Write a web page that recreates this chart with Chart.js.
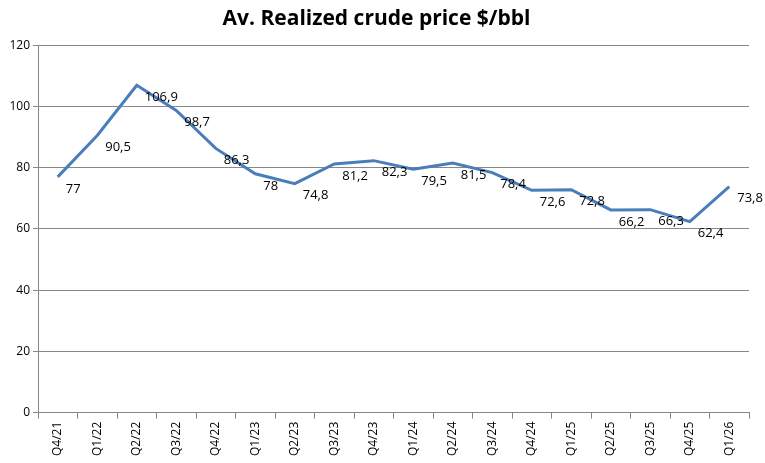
<!DOCTYPE html>
<html>
<head>
<meta charset="utf-8">
<script src="https://cdn.jsdelivr.net/npm/chart.js@4"></script>
<style>
  html, body { margin: 0; padding: 0; background: #fff; }
  #wrap { width: 765px; height: 463px; position: relative; }
</style>
</head>
<body>
<div id="wrap"><canvas id="c"></canvas></div>
<script>
const quarters = ['Q4/21','Q1/22','Q2/22','Q3/22','Q4/22','Q1/23','Q2/23','Q3/23','Q4/23',
  'Q1/24','Q2/24','Q3/24','Q4/24','Q1/25','Q2/25','Q3/25','Q4/25','Q1/26'];
const prices = [77, 90.5, 106.9, 98.7, 86.3, 78, 74.8, 81.2, 82.3,
  79.5, 81.5, 78.4, 72.6, 72.8, 66.2, 66.3, 62.4, 73.8];
const yTicks = [0, 20, 40, 60, 80, 100, 120];

// value labels next to each point, comma decimal like the source
const pointLabels = {
  id: 'pointLabels',
  afterDatasetsDraw(chart) {
    const ctx = chart.ctx;
    const meta = chart.getDatasetMeta(0);
    ctx.save();
    ctx.font = '13px "Open Sans", sans-serif';
    ctx.fillStyle = '#000';
    ctx.textBaseline = 'middle';
    meta.data.forEach((pt, i) => {
      ctx.fillText(String(prices[i]).replace('.', ','), pt.x + 8, pt.y + 12);
    });
    ctx.restore();
  }
};

new Chart(document.getElementById('c'), {
  type: 'line',
  data: {
    labels: quarters,
    datasets: [{
      data: prices,
      borderColor: '#4a7ebb',
      borderWidth: 3,
      pointRadius: 0,
      tension: 0,
      fill: false
    }]
  },
  options: {
    responsive: true,
    maintainAspectRatio: false,
    animation: false,
    layout: { padding: { top: 4, right: 16, bottom: 4, left: 4 } },
    plugins: {
      legend: { display: false },
      tooltip: { enabled: false },
      title: {
        display: true,
        text: 'Av. Realized crude price $/bbl',
        color: '#000',
        font: { family: '"Open Sans", sans-serif', size: 21, weight: 'bold' },
        padding: { top: 2, bottom: 14 }
      }
    },
    scales: {
      x: {
        offset: true,
        grid: { offset: true, drawOnChartArea: false, color: '#888', tickLength: 6 },
        border: { color: '#888' },
        ticks: {
          color: '#000', maxRotation: 90, minRotation: 90, autoSkip: false,
          font: { family: '"Open Sans", sans-serif', size: 12 }
        }
      },
      y: {
        min: 0, max: 120,
        afterBuildTicks(axis) { axis.ticks = yTicks.map(v => ({ value: v })); },
        afterFit(axis) { axis.width = 34; },
        grid: { color: '#888', tickLength: 5 },
        border: { color: '#888' },
        ticks: { color: '#000', font: { family: '"Open Sans", sans-serif', size: 12 } }
      }
    }
  },
  plugins: [pointLabels]
});
</script>
</body>
</html>
